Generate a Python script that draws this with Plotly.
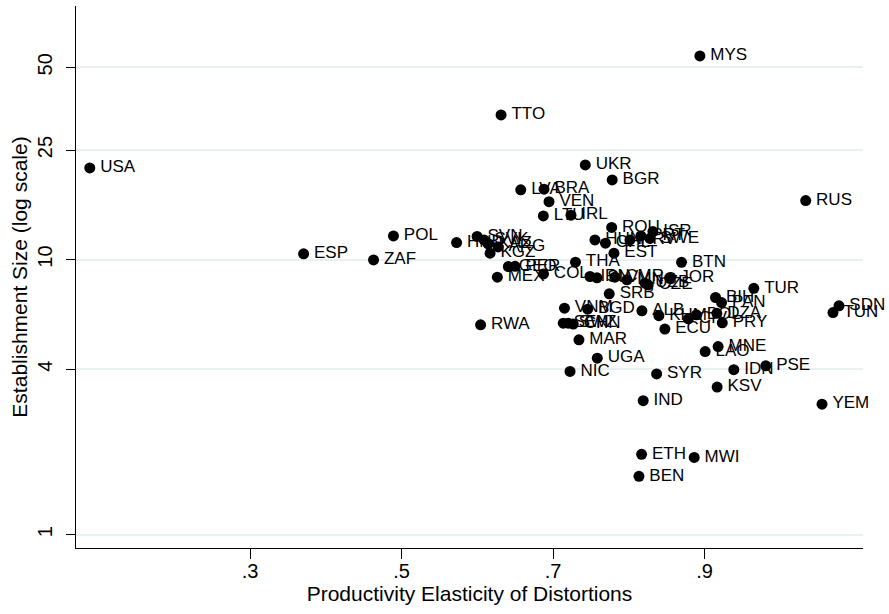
import plotly.graph_objects as go

codes = ["USA","MYS","TTO","UKR","BGR","LVA","BRA","VEN","LTU","IRL",
         "RUS","ROU","POL","ESP","ZAF","HND","SVN","SVK","KAZ","ARG",
         "KGZ","GEO","PER","MEX","COL","THA","EST","BTN","HUN","CHL",
         "HRV","PRT","ISR","SWE","IRN","SLV","CMR","MNG","UZB","CZE",
         "JOR","SRB","TUR","BIH","PAN","VNM","BGD","ALB","KHM","CIV",
         "BOL","DZA","PRY","SDN","TUN","RWA","SEN","SWZ","CHN","MAR",
         "ECU","UGA","NIC","SYR","IND","LAO","MNE","IDN","KSV","PSE",
         "YEM","ETH","MWI","BEN"]

elasticity = [0.0885,0.8937,0.6313,0.7425,0.778,0.6573,0.688,0.6946,0.6871,0.7236,
              1.0334,0.7773,0.4893,0.3707,0.463,0.5726,0.5997,0.6089,0.6142,0.6274,
              0.6168,0.6409,0.6498,0.6264,0.6873,0.7295,0.7803,0.8695,0.7552,0.7691,
              0.8014,0.8159,0.8317,0.8278,0.7487,0.7579,0.7816,0.7974,0.8212,0.8255,
              0.8541,0.7741,0.9649,0.9144,0.9223,0.715,0.7456,0.8172,0.8396,0.8785,
              0.8891,0.9161,0.9233,1.0773,1.0694,0.6043,0.7134,0.72,0.7266,0.7341,
              0.8475,0.7583,0.7223,0.8366,0.8189,0.9007,0.9178,0.9385,0.9165,0.9807,
              1.0549,0.8168,0.8862,0.8133]

estab_size = [21.53,54.95,33.55,22.08,19.48,17.92,18.03,16.24,14.41,14.50,
              16.38,13.09,12.19,10.49,9.97,11.53,12.14,11.79,11.40,11.12,
              10.55,9.43,9.45,8.63,8.87,9.78,10.55,9.77,11.79,11.47,
              11.79,12.19,12.64,11.94,8.68,8.58,8.63,8.44,8.21,8.09,
              8.56,7.51,7.86,7.28,6.98,6.66,6.60,6.51,6.25,6.09,
              6.30,6.38,5.89,6.79,6.42,5.79,5.87,5.87,5.83,5.11,
              5.59,4.38,3.92,3.84,3.07,4.63,4.83,3.98,3.44,4.11,
              2.98,1.96,1.91,1.63]

x_ticks = [0.3, 0.5, 0.7, 0.9]
x_tick_labels = [".3", ".5", ".7", ".9"]
y_ticks = [1, 4, 10, 25, 50]
y_tick_labels = ["1", "4", "10", "25", "50"]

FONT = "Liberation Sans, Arial, Helvetica, sans-serif"

fig = go.Figure()
fig.add_trace(go.Scatter(
    x=elasticity, y=estab_size, mode="markers",
    marker=dict(color="black", size=11, line=dict(width=0)),
    cliponaxis=False, showlegend=False, hoverinfo="skip"))
fig.add_trace(go.Scatter(
    x=elasticity, y=estab_size, mode="markers+text", text=codes,
    textposition="middle right",
    textfont=dict(family=FONT, size=17, color="black"),
    marker=dict(color="rgba(0,0,0,0)", size=15, line=dict(width=0)),
    cliponaxis=False, showlegend=False, hoverinfo="skip"))

fig.update_layout(
    width=889, height=614,
    margin=dict(l=76, r=26, t=6, b=66, autoexpand=False),
    paper_bgcolor="white", plot_bgcolor="white",
    font=dict(family=FONT, color="black"),
    xaxis=dict(
        range=[0.0703, 1.109], tickvals=x_ticks, ticktext=x_tick_labels,
        automargin=False, ticklabelstandoff=-5,
        showgrid=False, zeroline=False, showline=True, linecolor="black", linewidth=1.3,
        ticks="outside", ticklen=10, tickwidth=1.3, tickcolor="black",
        tickfont=dict(family=FONT, size=20, color="black"),
        title=dict(text="Productivity Elasticity of Distortions",
                   font=dict(family=FONT, size=21, color="black"), standoff=5),
    ),
    yaxis=dict(
        type="log", range=[-0.0483, 1.9216], tickvals=y_ticks, ticktext=y_tick_labels,
        tickangle=-90, automargin=False, ticklabelstandoff=6,
        showgrid=True, gridcolor="#e8f0f2", gridwidth=1.5,
        zeroline=False, showline=True, linecolor="black", linewidth=1.3,
        ticks="outside", ticklen=9, tickwidth=1.3, tickcolor="black",
        tickfont=dict(family=FONT, size=20, color="black"),
        title=dict(text="Establishment Size (log scale)",
                   font=dict(family=FONT, size=21, color="black"), standoff=0),
    ),
)

fig.write_html("out.html", config={"displayModeBar": False},
               post_script="document.body.style.margin='0';document.body.style.overflow='hidden';")
